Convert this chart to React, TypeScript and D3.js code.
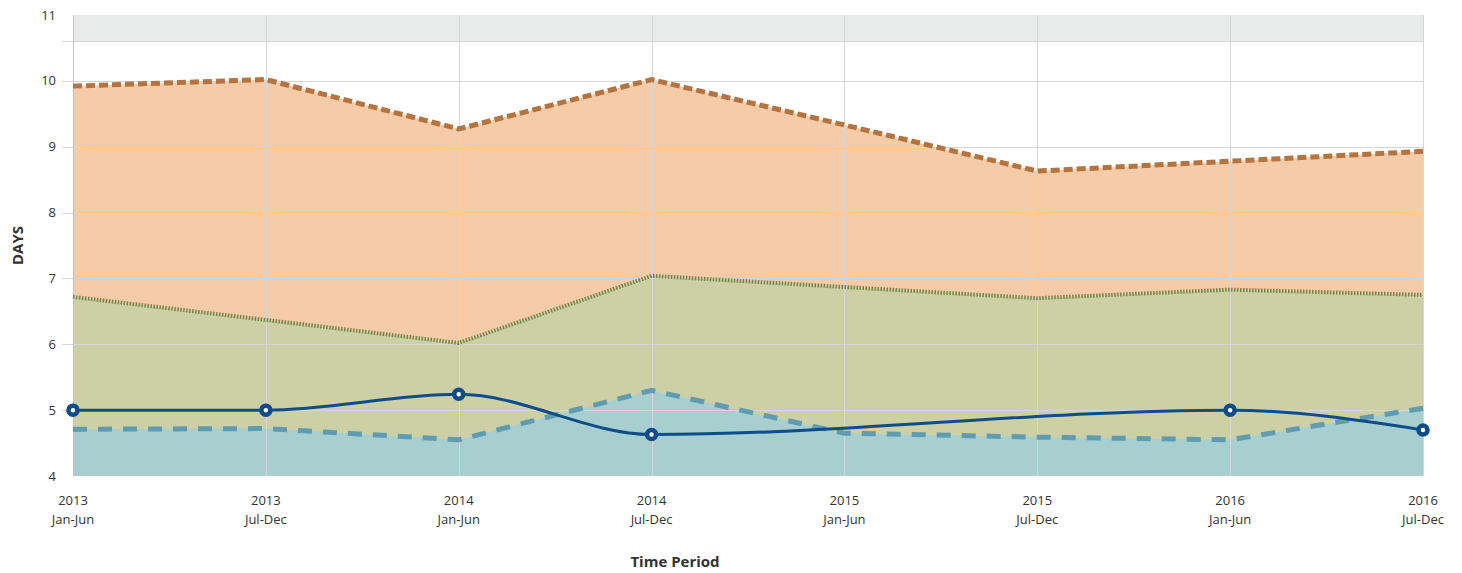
import React, { useEffect, useRef } from 'react';
import * as d3 from 'd3';

const periods = ['2013|Jan-Jun', '2013|Jul-Dec', '2014|Jan-Jun', '2014|Jul-Dec', '2015|Jan-Jun', '2015|Jul-Dec', '2016|Jan-Jun', '2016|Jul-Dec'];
const upperValues = [9.92, 10.02, 9.27, 10.02, 9.33, 8.63, 8.78, 8.93];
const middleValues = [6.72, 6.37, 6.02, 7.04, 6.87, 6.70, 6.83, 6.75];
const lowerValues = [4.71, 4.72, 4.55, 5.3, 4.65, 4.59, 4.55, 5.03];
const medianValues: (number | null)[] = [5.0, 5.0, 5.24, 4.63, null, null, 5.0, 4.70];
const yTicks = [4, 5, 6, 7, 8, 9, 10, 11];

const App = () => {
  const ref = useRef<SVGSVGElement>(null);

  useEffect(() => {
    document.body.style.margin = '0';
    const svg = d3.select(ref.current);
    const width = 1462;
    const height = 573;
    const marginTop = 15;
    const marginRight = 39;
    const marginBottom = 97;
    const marginLeft = 73;

    svg.selectAll('*').remove();

    const x = d3.scalePoint()
      .domain(periods)
      .range([marginLeft, width - marginRight]);

    const y = d3.scaleLinear()
      .domain([4, 11])
      .range([height - marginBottom, marginTop]);

    const font = '"Open Sans", "Noto Sans", sans-serif';

    // grey band at the top of the plot
    svg.append('rect')
      .attr('x', marginLeft)
      .attr('y', y(11))
      .attr('width', x.range()[1] - marginLeft)
      .attr('height', y(10.6) - y(11))
      .attr('fill', '#e9eaea');

    const area = (vals: number[]) => d3.area<number>()
      .x((d, i) => x(periods[i])!)
      .y0(y(4))
      .y1(d => y(d))(vals);

    const line = (vals: number[]) => d3.line<number>()
      .x((d, i) => x(periods[i])!)
      .y(d => y(d))(vals);

    svg.append('path').attr('d', area(upperValues)).attr('fill', '#f6cba8');
    svg.append('path').attr('d', area(middleValues)).attr('fill', '#cdd0a4');
    svg.append('path').attr('d', area(lowerValues)).attr('fill', '#a7cfcf');

    // grid
    const grid = svg.append('g').attr('stroke', '#d6d6d6').attr('stroke-width', 1);
    grid.selectAll('.h')
      .data([...yTicks.slice(1, -1), 10.6])
      .join('line')
        .attr('x1', marginLeft - 11)
        .attr('x2', x.range()[1])
        .attr('y1', d => Math.round(y(d)) + 0.5)
        .attr('y2', d => Math.round(y(d)) + 0.5);
    grid.selectAll('.v')
      .data(periods)
      .join('line')
        .attr('x1', d => Math.round(x(d)!) + 0.5)
        .attr('x2', d => Math.round(x(d)!) + 0.5)
        .attr('y1', y(11))
        .attr('y2', y(4))
        .attr('stroke', (d, i) => (i === 0 ? '#c4c4c4' : '#d6d6d6'));

    svg.append('path')
      .attr('d', line(upperValues))
      .attr('fill', 'none')
      .attr('stroke', '#b5733f')
      .attr('stroke-width', 5)
      .attr('stroke-dasharray', '9,4');

    svg.append('path')
      .attr('d', line(middleValues))
      .attr('fill', 'none')
      .attr('stroke', '#6f8446')
      .attr('stroke-width', 4)
      .attr('stroke-dasharray', '1.5,1.5');

    svg.append('path')
      .attr('d', line(lowerValues))
      .attr('fill', 'none')
      .attr('stroke', '#5f9bb1')
      .attr('stroke-width', 5)
      .attr('stroke-dasharray', '14,11');

    const medianPts = medianValues
      .map((v, i) => ({ p: periods[i], v }))
      .filter(d => d.v !== null) as { p: string; v: number }[];

    svg.append('path')
      .attr('d', d3.line<{ p: string; v: number }>()
        .x(d => x(d.p)!)
        .y(d => y(d.v))
        .curve(d3.curveMonotoneX)(medianPts))
      .attr('fill', 'none')
      .attr('stroke', '#0e4c8a')
      .attr('stroke-width', 3);

    svg.append('g')
      .selectAll('circle')
      .data(medianPts)
      .join('circle')
        .attr('cx', d => x(d.p)!)
        .attr('cy', d => y(d.v))
        .attr('r', 4.5)
        .attr('fill', '#fff')
        .attr('stroke', '#0e4c8a')
        .attr('stroke-width', 4.5);

    // y axis labels
    svg.append('g')
      .selectAll('text')
      .data(yTicks)
      .join('text')
        .attr('x', 56)
        .attr('y', d => y(d))
        .attr('dy', '0.35em')
        .attr('text-anchor', 'end')
        .attr('font-family', font)
        .attr('font-size', 13)
        .attr('fill', '#333')
        .text(d => d);

    // x axis labels
    const xl = svg.append('g')
      .selectAll('text')
      .data(periods)
      .join('text')
        .attr('x', d => x(d)!)
        .attr('y', 505)
        .attr('text-anchor', 'middle')
        .attr('font-family', font)
        .attr('font-size', 13)
        .attr('fill', '#333');
    xl.append('tspan').attr('x', d => x(d)!).text(d => d.split('|')[0]);
    xl.append('tspan').attr('x', d => x(d)!).attr('dy', 19).text(d => d.split('|')[1]);

    svg.append('text')
      .attr('x', 675)
      .attr('y', 567)
      .attr('text-anchor', 'middle')
      .attr('font-family', font)
      .attr('font-size', 15)
      .attr('font-weight', 'bold')
      .attr('fill', '#333')
      .text('Time Period');

    svg.append('text')
      .attr('transform', `translate(23,${y(7.5)}) rotate(-90)`)
      .attr('text-anchor', 'middle')
      .attr('font-family', font)
      .attr('font-size', 15)
      .attr('font-weight', 'bold')
      .attr('fill', '#333')
      .text('DAYS');
  }, []);

  return (
    <svg ref={ref} width={1462} height={573} style={{ display: 'block' }}></svg>
  );
};

export default App;
